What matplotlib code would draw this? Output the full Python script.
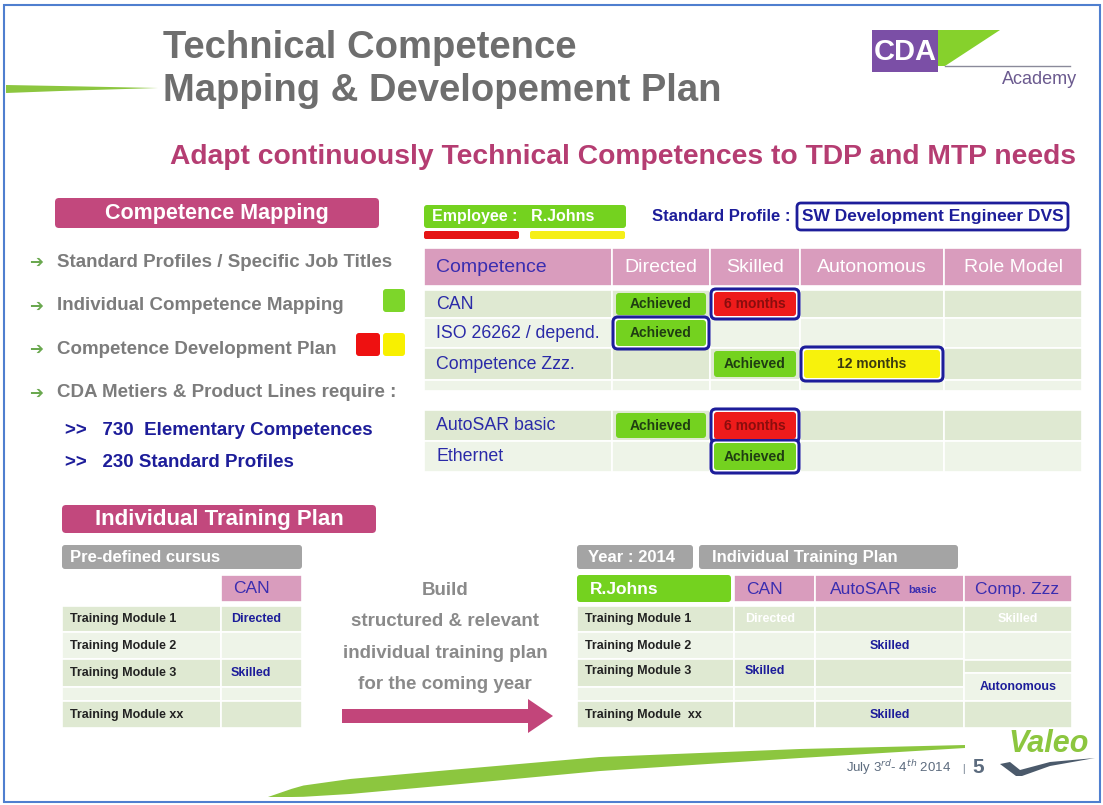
import matplotlib
matplotlib.use("Agg")
import matplotlib.pyplot as plt
from matplotlib.patches import FancyBboxPatch, Rectangle, Polygon
import numpy as np

plt.rcParams["font.family"] = ["Liberation Sans", "DejaVu Sans"]

# ---- slide content ----
title_lines = ["Technical Competence", "Mapping & Developement Plan"]
subtitle = "Adapt continuously Technical Competences to TDP and MTP needs"
bullets = ["Standard Profiles / Specific Job Titles",
           "Individual Competence Mapping",
           "Competence Development Plan",
           "CDA Metiers & Product Lines require :"]
counts = [">>   730  Elementary Competences", ">>   230 Standard Profiles"]

employee = "R.Johns"
profile = "SW Development Engineer DVS"
levels = ["Directed", "Skilled", "Autonomous", "Role Model"]
competences = ["CAN", "ISO 26262 / depend.", "Competence Zzz.", "", "AutoSAR basic", "Ethernet"]
# (row, level index, label, kind, outlined)
mapping_cells = [
    (0, 0, "Achieved", "done", False),
    (0, 1, "6 months", "red", True),
    (1, 0, "Achieved", "done", True),
    (2, 1, "Achieved", "done", False),
    (2, 2, "12 months", "yellow", True),
    (4, 0, "Achieved", "done", False),
    (4, 1, "6 months", "red", True),
    (5, 1, "Achieved", "done", True),
]

modules = ["Training Module 1", "Training Module 2", "Training Module 3", "", "Training Module xx"]
cursus_can = ["Directed", "", "Skilled", "", ""]
plan_modules = ["Training Module 1", "Training Module 2", "Training Module 3", "", "Training Module  xx"]
plan_can = ["Directed", "", "Skilled", "", ""]
plan_autosar = ["", "Skilled", "", "", "Skilled"]
plan_zzz = ["Skilled", "", "", "Autonomous", ""]
build_text = ["Build", "structured & relevant", "individual training plan", "for the coming year"]
footer_date = "July 3$^{rd}$- 4$^{th}$ 2014"
page_no = "5"

# ---- colours ----
MAGENTA = "#c2487d"
PINK = "#d99cbd"
NAVY = "#1d1d9a"
GRAY = "#7c7c7c"
ROW_DARK = "#dfe9d2"
ROW_LIGHT = "#eef4e8"
LIME = "#74d21f"
RED = "#ee1b1b"
YELLOW = "#f7f20c"
BOXGRAY = "#a4a4a4"
GREEN_SWOOSH = "#8cc63f"
SLATE = "#5c6b7e"

fig = plt.figure(figsize=(11.03, 8.05), dpi=100)
ax = fig.add_axes([0, 0, 1, 1])
ax.set_xlim(0, 1103)
ax.set_ylim(805, 0)
ax.axis("off")


def rbox(x0, y0, x1, y1, fc, ec="none", lw=0, r=4, z=2):
    p = FancyBboxPatch((x0, y0), x1 - x0, y1 - y0,
                       boxstyle="round,pad=0,rounding_size=%s" % r,
                       fc=fc, ec=ec, lw=lw, zorder=z)
    ax.add_patch(p)


def rect(x0, y0, x1, y1, fc, z=1):
    ax.add_patch(Rectangle((x0, y0), x1 - x0, y1 - y0, fc=fc, ec="white", lw=1.2, zorder=z))


def txt(x, y, s, size, color, ha="left", weight="bold", **kw):
    ax.text(x, y, s, fontsize=size, color=color, ha=ha, va="center", fontweight=weight, zorder=5, **kw)


# frame
ax.add_patch(Rectangle((4, 5), 1096, 797, fc="none", ec="#4f7fcf", lw=1.5, zorder=0))

# title
txt(163, 48, title_lines[0], 27.5, "#6e6e6e")
txt(163, 91, title_lines[1], 27.5, "#6e6e6e")
ax.add_patch(Polygon([[6, 85], [60, 86], [158, 88], [60, 91], [6, 93]], fc=GREEN_SWOOSH, ec="none"))

# CDA logo
ax.add_patch(Rectangle((872, 30), 66, 42, fc="#7b4fa6", ec="none", zorder=2))
txt(905, 52, "CDA", 21, "white", ha="center")
ax.add_patch(Polygon([[938, 30], [1000, 30], [945, 66], [938, 66]], fc="#86d12c", ec="none", zorder=2))
ax.plot([945, 1070], [66, 66], color="#8a8a9a", lw=1, zorder=2)
txt(1002, 80, "Academy", 13, "#6b5a8f", weight="normal")

# subtitle
txt(170, 157, subtitle, 20.3, "#b53d72")

# left: competence mapping
rbox(55, 198, 379, 228, MAGENTA)
txt(217, 213, "Competence Mapping", 15.5, "white", ha="center")
for i, b in enumerate(bullets):
    y = 262 + i * 43.5
    txt(29, y, "\u2794", 12, "#6aa84f", weight="normal", family=["DejaVu Sans"])
    txt(57, y, b, 13.5, GRAY)
for i, c in enumerate(counts):
    txt(65, 430 + i * 32, c, 13.5, NAVY)
rbox(383, 289, 405, 312, "#7dd62a", r=3)
rbox(356, 333, 380, 356, "#ee1111", r=3)
rbox(383, 333, 405, 356, "#f8f000", r=3)

# employee / profile
rbox(424, 205, 626, 228, LIME, r=3)
txt(432, 216, "Employee :   " + employee, 11.5, "white")
rbox(424, 231, 519, 239, "#e51515", r=2)
rbox(530, 231, 625, 239, "#f5ef18", r=2)
txt(652, 216, "Standard Profile :", 12, NAVY)
rbox(797, 203, 1068, 230, "white", ec=NAVY, lw=2, r=4)
txt(933, 216, profile, 12.5, NAVY, ha="center")

# mapping table
col_x = [424, 612, 710, 800, 944, 1082]
row_y = [(290, 318), (318, 348), (348, 380), (380, 391), None, (410, 441), (441, 472)]
rect(col_x[0], 248, col_x[1], 286, PINK)
txt(436, 267, "Competence", 14, "#3a2db0", weight="normal")
for j, lev in enumerate(levels):
    rect(col_x[j + 1], 248, col_x[j + 2], 286, PINK)
    txt((col_x[j + 1] + col_x[j + 2]) / 2, 267, lev, 14, "white", ha="center", weight="normal")

row_idx = [0, 1, 2, 3, 5, 6]
for k, name in enumerate(competences):
    y0, y1 = row_y[row_idx[k]]
    fc = ROW_DARK if k % 2 == 0 else ROW_LIGHT
    for j in range(5):
        rect(col_x[j], y0, col_x[j + 1], y1, fc)
    if name:
        txt(436, (y0 + y1) / 2, name, 12.8, "#2a2aa8", weight="normal")

kind_fc = {"done": LIME, "red": RED, "yellow": YELLOW}
kind_tc = {"done": "#1f3d12", "red": "#8a0d0d", "yellow": "#3a3a10"}
for r, c, label, kind, outlined in mapping_cells:
    y0, y1 = row_y[row_idx[r]]
    x0, x1 = col_x[c + 1], col_x[c + 2]
    if outlined:
        rbox(x0 + 1, y0 - 1, x1 - 1, y1 + 1, "white", ec=NAVY, lw=2.2, r=5, z=3)
        rbox(x0 + 4, y0 + 2, x1 - 4, y1 - 2, kind_fc[kind], r=3, z=4)
    else:
        rbox(x0 + 4, y0 + 3, x1 - 4, y1 - 3, kind_fc[kind], r=3, z=4)
    txt((x0 + x1) / 2, (y0 + y1) / 2, label, 10, kind_tc[kind], ha="center")

# individual training plan
rbox(62, 505, 376, 533, MAGENTA)
txt(219, 519, "Individual Training Plan", 16, "white", ha="center")
rbox(62, 545, 302, 569, BOXGRAY, r=3)
txt(70, 557, "Pre-defined cursus", 12, "white")

mod_rows = [(606, 632), (632, 659), (659, 687), (687, 701), (701, 728)]
rect(221, 575, 302, 602, PINK)
txt(233, 588, "CAN", 12.5, "#3a2db0", weight="normal")
for k, (y0, y1) in enumerate(mod_rows):
    fc = ROW_DARK if k % 2 == 0 else ROW_LIGHT
    rect(62, y0, 221, y1, fc)
    rect(221, y0, 302, y1, fc)
    txt(70, (y0 + y1) / 2, modules[k], 9, "#222222")
    txt(231, (y0 + y1) / 2, cursus_can[k], 9, NAVY)

# build text and arrow
for i, line in enumerate(build_text):
    txt(445, 590 + i * 31.5, line, 13.5, "#8a8a8a", ha="center")
ax.add_patch(Polygon([[342, 709], [528, 709], [528, 699], [553, 716],
                      [528, 733], [528, 723], [342, 723]], fc="#c2457a", ec="none"))

# yearly plan table
rbox(577, 545, 693, 569, BOXGRAY, r=3)
txt(588, 557, "Year : 2014", 12, "white")
rbox(699, 545, 958, 569, BOXGRAY, r=3)
txt(712, 557, "Individual Training Plan", 12, "white")
rbox(577, 575, 731, 602, LIME, r=3)
txt(590, 589, employee, 12.5, "white")
pcol = [577, 734, 815, 964, 1072]
rect(pcol[1], 575, pcol[2], 602, PINK)
txt(746, 589, "CAN", 12.5, "#3a2db0", weight="normal")
rect(pcol[2], 575, pcol[3], 602, PINK)
txt(830, 589, "AutoSAR", 12.5, "#3a2db0", weight="normal")
txt(908, 590, "basic", 8, "#3a2db0")
rect(pcol[3], 575, pcol[4], 602, PINK)
txt(975, 589, "Comp. Zzz", 12.5, "#3a2db0", weight="normal")

for k, (y0, y1) in enumerate(mod_rows):
    fc = ROW_DARK if k % 2 == 0 else ROW_LIGHT
    for j in range(3):
        rect(pcol[j], y0, pcol[j + 1], y1, fc)
    ym = (y0 + y1) / 2 - (2 if k == 2 else 0)
    txt(585, ym, plan_modules[k], 9, "#222222")
    can_c = "white" if k == 0 else NAVY
    txt(745, ym, plan_can[k], 9, can_c)
    txt((pcol[2] + pcol[3]) / 2, (y0 + y1) / 2, plan_autosar[k], 9, NAVY, ha="center")

zzz_rows = [(606, 632), (632, 660), (660, 673), (673, 701), (701, 728)]
for k, (y0, y1) in enumerate(zzz_rows):
    fc = ROW_DARK if k % 2 == 0 else ROW_LIGHT
    rect(pcol[3], y0, pcol[4], y1, fc)
    c = "white" if k == 0 else NAVY
    txt((pcol[3] + pcol[4]) / 2, (y0 + y1) / 2, plan_zzz[k], 9, c, ha="center")

# footer swoosh
ux = [268, 300, 350, 450, 600, 800, 965]
uy = [797, 786, 779, 770, 757, 749, 745]
ly = [797, 797, 794, 785, 771, 758, 748]
xs = np.linspace(268, 965, 60)
upper = np.interp(xs, ux, uy)
lower = np.interp(xs, ux, ly)
pts = np.vstack([np.column_stack([xs, upper]), np.column_stack([xs[::-1], lower[::-1]])])
ax.add_patch(Polygon(pts, fc=GREEN_SWOOSH, ec="none"))

# footer date and Valeo
ax.text(846, 768, footer_date, fontsize=9.5, color=SLATE, va="center", ha="left")
ax.text(962, 769, "|", fontsize=7, color=SLATE, va="center")
ax.text(972, 767, page_no, fontsize=15, color=SLATE, va="center", fontweight="bold")
ax.text(1008, 744, "Valeo", fontsize=22, color=GREEN_SWOOSH, va="center", fontweight="bold", style="italic")
ax.add_patch(Polygon([[1000, 764], [1010, 762], [1020, 770], [1050, 762], [1095, 758],
                      [1050, 766], [1022, 776], [1016, 776]], fc="#4b5a6b", ec="none"))

fig.savefig("out.png", dpi=100)
